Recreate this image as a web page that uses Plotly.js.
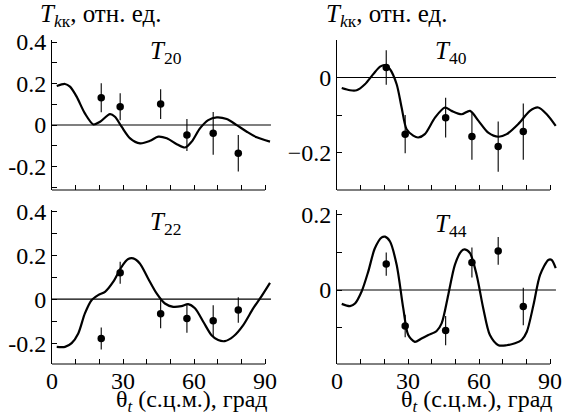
<!DOCTYPE html>
<html><head><meta charset="utf-8">
<script src="https://cdn.plot.ly/plotly-3.0.1.min.js"></script>
<style>html,body{margin:0;padding:0;background:#fff}#plot{width:575px;height:417px}</style>
</head><body><div id="plot"></div>
<script>
// experimental angles (deg)
const angles = [20.8, 28.8, 45.9, 57.0, 68.1, 78.7];

// experimental values and errors
const T20_exp = [0.132, 0.088, 0.101, -0.048, -0.040, -0.136];
const T20_err = [0.070, 0.065, 0.072, 0.077, 0.103, 0.088];
const T40_exp = [0.027, -0.151, -0.107, -0.157, -0.184, -0.144];
const T40_err = [0.046, 0.051, 0.053, 0.062, 0.067, 0.075];
const T22_exp = [-0.179, 0.120, -0.067, -0.088, -0.098, -0.050];
const T22_err = [0.050, 0.050, 0.066, 0.065, 0.070, 0.058];
const T44_exp = [0.069, -0.096, -0.108, 0.073, 0.104, -0.044];
const T44_err = [0.031, 0.030, 0.039, 0.040, 0.037, 0.050];

// theory curves
const T20_th_x = [2.0,5.5,7.6,10.4,13.9,17.5,20.3,24.5,26.6,29.4,33.0,37.2,41.4,44.9,48.5,52.7,56.2,59.0,62.5,66.0,69.6,73.8,78.0,82.3,86.5,92.1];
const T20_th_y = [0.188,0.198,0.185,0.137,0.056,0.003,0.016,0.053,0.040,-0.008,-0.064,-0.088,-0.076,-0.056,-0.064,-0.092,-0.108,-0.080,-0.016,0.024,0.037,0.029,0.000,-0.032,-0.059,-0.080];

const T40_th_x = [2.0,5.5,8.3,11.8,15.3,18.2,20.3,22.4,25.2,27.3,29.4,32.2,34.3,37.1,41.4,45.6,48.4,52.6,56.2,59.7,63.9,68.2,71.7,76.6,81.5,85.0,88.6,92.4];
const T40_th_y = [-0.028,-0.034,-0.034,-0.018,0.009,0.029,0.033,0.022,-0.018,-0.080,-0.138,-0.155,-0.160,-0.151,-0.107,-0.080,-0.089,-0.098,-0.089,-0.115,-0.147,-0.158,-0.151,-0.124,-0.089,-0.080,-0.098,-0.129];

const T22_th_x = [2.0,5.5,8.3,11.1,13.9,16.7,19.5,22.4,25.9,29.4,32.2,34.3,37.1,40.6,44.2,47.7,51.2,54.7,57.5,60.4,63.9,67.4,70.2,73.0,76.6,80.8,85.0,87.9,92.1];
const T22_th_y = [-0.217,-0.217,-0.200,-0.156,-0.065,-0.005,0.018,0.033,0.079,0.147,0.182,0.185,0.162,0.094,0.026,-0.020,-0.035,-0.032,-0.023,-0.042,-0.103,-0.164,-0.186,-0.191,-0.170,-0.118,-0.042,0.003,0.074];

const T44_th_x = [2.0,5.5,7.6,10.4,13.2,16.0,18.9,20.3,22.4,25.2,28.0,30.1,32.9,35.7,38.6,42.1,44.2,47.0,49.8,52.6,54.0,56.2,59.0,61.8,64.6,68.2,71.7,75.2,78.0,80.2,83.0,85.8,89.3,90.7,92.4];
const T44_th_y = [-0.037,-0.043,-0.036,-0.004,0.049,0.111,0.140,0.142,0.129,0.067,-0.049,-0.120,-0.138,-0.129,-0.120,-0.109,-0.089,-0.013,0.067,0.104,0.108,0.098,0.040,-0.049,-0.120,-0.147,-0.147,-0.142,-0.133,-0.111,-0.040,0.040,0.080,0.080,0.058];

// tick definitions
const xTickVals = [0,10,20,30,40,50,60,70,80,90];
const xTickTextBottom = ['0','','','30','','','60','','','90'];
const xTickTextTop = ['','','','','','','','','',''];
const y1TickVals = [-0.3,-0.2,-0.1,0,0.1,0.2,0.3,0.4];
const y1TickText = ['','-0.2','','0','','0.2','','0.4'];
const y2TickVals = [-0.3,-0.2,-0.1,0,0.1];
const y2TickText = ['','\u22120.2','','0',''];
const y3TickVals = [-0.2,-0.1,0,0.1,0.2,0.3,0.4];
const y3TickText = ['-0.2','','0','','0.2','','0.4'];
const y4TickVals = [-0.2,-0.1,0,0.1,0.2];
const y4TickText = ['\u22120.2','','0','','0.2'];

const panelLabels = ['<i>T</i><sub>20</sub>','<i>T</i><sub>40</sub>','<i>T</i><sub>22</sub>','<i>T</i><sub>44</sub>'];
const yTitle = '<i>T</i><sub><i>k</i>\u043a</sub>, \u043e\u0442\u043d. \u0435\u0434.';
const xTitle = '\u03b8<sub><i>t</i></sub> (\u0441.\u0446.\u043c.), \u0433\u0440\u0430\u0434';

const FONT = 'Liberation Serif, Times New Roman, serif';
const W = 575, H = 417;
const px = v => v / W, py = v => 1 - v / H;

const traces = [];
const sets = [
  [T20_th_x, T20_th_y, T20_exp, T20_err, 'x', 'y'],
  [T40_th_x, T40_th_y, T40_exp, T40_err, 'x2', 'y2'],
  [T22_th_x, T22_th_y, T22_exp, T22_err, 'x3', 'y3'],
  [T44_th_x, T44_th_y, T44_exp, T44_err, 'x4', 'y4'],
];
sets.forEach(([tx, ty, ey, ee, xa, ya]) => {
  traces.push({x: tx, y: ty, xaxis: xa, yaxis: ya, mode: 'lines', type: 'scatter',
    line: {color: '#000', width: 2.2, shape: 'spline', smoothing: 0.8}, hoverinfo: 'skip'});
  traces.push({x: angles, y: ey, xaxis: xa, yaxis: ya, mode: 'markers', type: 'scatter',
    marker: {color: '#000', size: 7.5},
    error_y: {type: 'data', array: ee, visible: true, color: '#000', thickness: 1.1, width: 0}});
});

const xL = [px(52), px(52 + 93 * 2.367)];
const xR = [px(337), px(337 + 93 * 2.367)];
const yT = [py(190), py(40)];
const yB = [py(364), py(210)];

function xax(domain, anchor, ticktext) {
  return {domain, anchor, range: [0, 93], tickvals: xTickVals, ticktext,
    ticks: 'inside', ticklen: 5, tickcolor: '#000', tickwidth: 1,
    showline: false, showgrid: false, zeroline: false,
    tickfont: {family: FONT, size: 24, color: '#000'}, fixedrange: true};
}
function yax(domain, anchor, range, tickvals, ticktext) {
  return {domain, anchor, range, tickvals, ticktext,
    ticks: 'inside', ticklen: 5, tickcolor: '#000', tickwidth: 1,
    showline: true, linecolor: '#000', linewidth: 1, showgrid: false, zeroline: false,
    tickfont: {family: FONT, size: 24, color: '#000'}, fixedrange: true};
}

const shapes = [];
[['x','y'],['x2','y2'],['x3','y3'],['x4','y4']].forEach(([xa, ya]) => {
  shapes.push({type: 'line', xref: xa, yref: ya + ' domain', x0: 0, x1: 90, y0: 0, y1: 0,
    line: {color: '#000', width: 1}});
  shapes.push({type: 'line', xref: xa, yref: ya, x0: 0, x1: 92.5, y0: 0, y1: 0,
    line: {color: '#000', width: 1.1}});
});

const annotations = [];
const labelPos = [[166, 52], [451, 52], [165, 223], [451, 225]];
panelLabels.forEach((t, i) => annotations.push({text: t, xref: 'paper', yref: 'paper',
  x: px(labelPos[i][0]), y: py(labelPos[i][1]), showarrow: false, xanchor: 'center', yanchor: 'middle',
  font: {family: FONT, size: 25, color: '#000'}}));
[[100, 16], [386, 16]].forEach(([x, y]) => annotations.push({text: yTitle, xref: 'paper', yref: 'paper',
  x: px(x), y: py(y), showarrow: false, xanchor: 'center', yanchor: 'middle',
  font: {family: FONT, size: 25, color: '#000'}}));
[[192, 401], [477, 401]].forEach(([x, y]) => annotations.push({text: xTitle, xref: 'paper', yref: 'paper',
  x: px(x), y: py(y), showarrow: false, xanchor: 'center', yanchor: 'middle',
  font: {family: FONT, size: 24, color: '#000'}}));

const layout = {
  width: W, height: H, margin: {l: 0, r: 0, t: 0, b: 0},
  paper_bgcolor: '#fff', plot_bgcolor: '#fff', showlegend: false,
  xaxis: xax(xL, 'y', xTickTextTop),
  yaxis: yax(yT, 'x', [-0.313, 0.41], y1TickVals, y1TickText),
  xaxis2: xax(xR, 'y2', xTickTextTop),
  yaxis2: yax(yT, 'x2', [-0.3, 0.1], y2TickVals, y2TickText),
  xaxis3: xax(xL, 'y3', xTickTextBottom),
  yaxis3: yax(yB, 'x3', [-0.295, 0.405], y3TickVals, y3TickText),
  xaxis4: xax(xR, 'y4', xTickTextBottom),
  yaxis4: yax(yB, 'x4', [-0.197, 0.213], y4TickVals, y4TickText),
  shapes, annotations
};
Plotly.newPlot('plot', traces, layout, {displayModeBar: false, staticPlot: true});
</script></body></html>
